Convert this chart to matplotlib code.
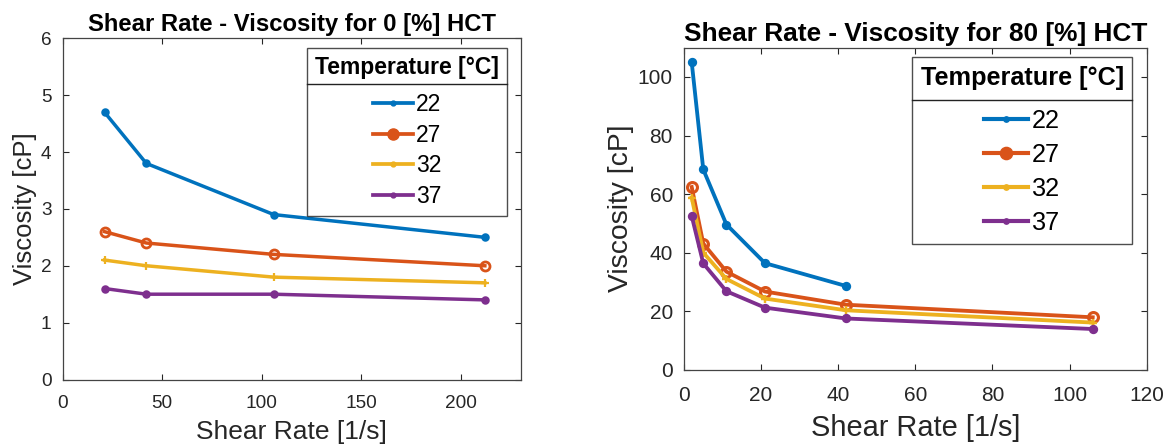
import matplotlib
matplotlib.use("Agg")
import matplotlib.pyplot as plt
from matplotlib.lines import Line2D

plt.rcParams['font.family'] = ['Liberation Sans', 'DejaVu Sans']

temps = ['22', '27', '32', '37']
colors = ['#0072BD', '#D95319', '#EDB120', '#7E2F8E']
markers = ['.', 'o', '+', '.']

# 0 % HCT
shear_0 = [21, 42, 106, 212]
visc_0 = {
    '22': [4.7, 3.8, 2.9, 2.5],
    '27': [2.6, 2.4, 2.2, 2.0],
    '32': [2.1, 2.0, 1.8, 1.7],
    '37': [1.6, 1.5, 1.5, 1.4],
}

# 80 % HCT (no 106 1/s reading at 22 C)
shear_80 = {
    '22': [2, 5, 11, 21, 42],
    '27': [2, 5, 11, 21, 42, 106],
    '32': [2, 5, 11, 21, 42, 106],
    '37': [2, 5, 11, 21, 42, 106],
}
visc_80 = {
    '22': [105, 68.4, 49.6, 36.4, 28.6],
    '27': [62.4, 43.1, 33.5, 26.7, 22.2, 17.9],
    '32': [58.8, 40.0, 31.0, 24.3, 20.3, 16.1],
    '37': [52.5, 36.3, 26.8, 21.2, 17.5, 13.9],
}

gray = '#262626'
W, H = 1172, 446


def draw_panel(ax, xs, data, title, xlim, ylim, xticks, yticks, sc, leg_xy,
               spacing, title_gap):
    # sc scales fonts/lines: the 80 % panel is drawn a bit larger
    for t, c, m in zip(temps, colors, markers):
        if m == 'o':
            ax.plot(xs[t], data[t], color=c, lw=2.5 * sc, marker='o', ms=6.5 * sc,
                    mfc='none', mew=2 * sc)
        else:
            ax.plot(xs[t], data[t], color=c, lw=2.5 * sc, marker=m,
                    ms=(9 if m == '.' else 5.5) * sc, mew=1.6 * sc)
    ax.set_xlim(*xlim)
    ax.set_ylim(*ylim)
    ax.set_xticks(xticks)
    ax.set_yticks(yticks)
    ax.tick_params(direction='in', top=True, right=True, labelsize=13.7 * sc,
                   colors=gray, length=4, width=0.8)
    ax.tick_params(axis='x', pad=10.8 * sc)
    ax.tick_params(axis='y', pad=8)
    for sp in ax.spines.values():
        sp.set_color('#444444')
        sp.set_linewidth(0.9)
    ax.set_title(title, fontsize=17.2 * sc, fontweight='bold', pad=5)
    ax.set_xlabel('Shear Rate [1/s]', fontsize=19 * sc, color=gray, labelpad=6)
    ax.set_ylabel('Viscosity [cP]', fontsize=18.5 * sc, color=gray, labelpad=2.5)

    handles = [Line2D([], [], color=c, lw=2.7 * sc, marker='o' if m == 'o' else '.',
                      ms=(8 if m == 'o' else 7) * sc)
               for c, m in zip(colors, markers)]
    fs = 16.5 * sc
    leg = ax.legend(handles, temps, title='Temperature [°C]', loc='upper left',
                    bbox_to_anchor=(leg_xy[0] / W, 1 - leg_xy[1] / H),
                    bbox_transform=fig.transFigure, borderaxespad=0,
                    fontsize=fs, title_fontsize=fs,
                    frameon=True, fancybox=False, edgecolor='#222222',
                    handlelength=1.75, handletextpad=0.14, labelspacing=spacing,
                    borderpad=0.35)
    leg.get_title().set_fontweight('bold')
    leg.get_frame().set_linewidth(1.0)
    leg._legend_box.align = 'center'
    # extra room between the title and the entries
    leg._legend_box.sep = spacing * fs + title_gap
    return leg


fig = plt.figure(figsize=(W / 100, H / 100), dpi=100)
ax1 = fig.add_axes([62.7 / W, 1 - 379.5 / H, 458 / W, 341.2 / H])
ax2 = fig.add_axes([684 / W, 1 - 369.7 / H, 462.7 / W, 322 / H])

leg1 = draw_panel(ax1, {t: shear_0 for t in temps}, visc_0,
                  'Shear Rate - Viscosity for 0 [%] HCT',
                  (0, 230), (0, 6), [0, 50, 100, 150, 200], range(0, 7), 1.0,
                  (307.3, 48.3), 0.33, 4.5)
leg2 = draw_panel(ax2, shear_80, visc_80,
                  'Shear Rate - Viscosity for 80 [%] HCT',
                  (0, 120), (0, 110), range(0, 121, 20), range(0, 101, 20), 1.1,
                  (911.7, 57.3), 0.40, 6.0)

# separator line between legend title and entries
fig.canvas.draw()
renderer = fig.canvas.get_renderer()
inv = fig.transFigure.inverted()
for leg in (leg1, leg2):
    frame = leg.get_frame().get_window_extent()
    entries = leg._legend_handle_box.get_window_extent(renderer)
    y = entries.y1 + 9
    (x0, yy), (x1, _) = inv.transform([(frame.x0, y), (frame.x1, y)])
    fig.add_artist(Line2D([x0, x1], [yy, yy], color='#222222', lw=1.0,
                          transform=fig.transFigure))

fig.savefig('out.png', dpi=100)
